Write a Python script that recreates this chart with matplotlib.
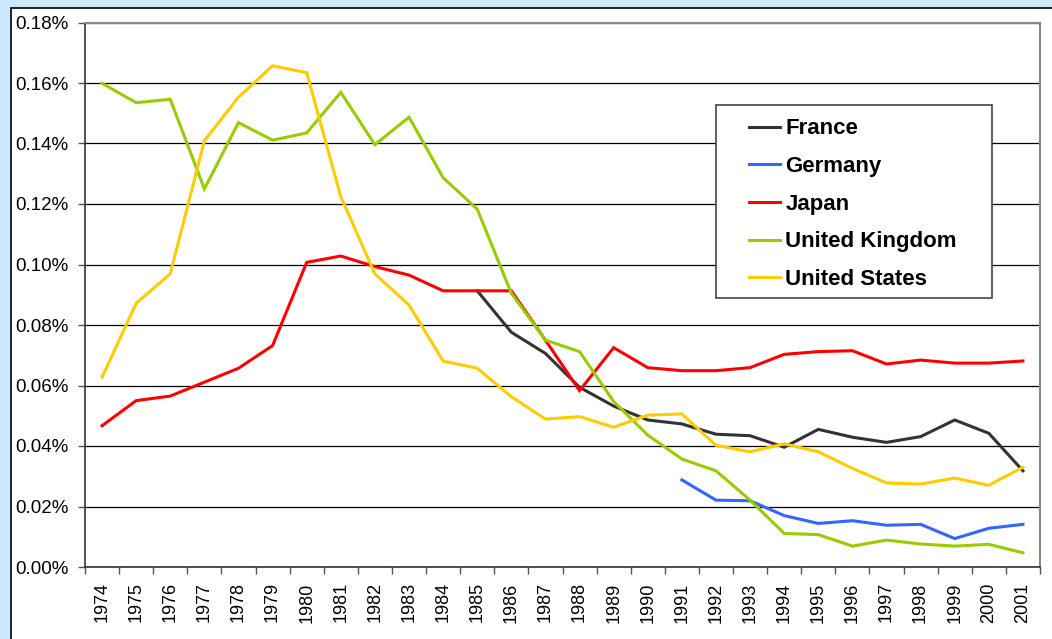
import numpy as np
import matplotlib
matplotlib.use("Agg")
import matplotlib.pyplot as plt
from matplotlib.patches import Rectangle
from matplotlib.ticker import FuncFormatter, FixedLocator

plt.rcParams['font.family'] = ['Liberation Sans', 'DejaVu Sans']

years = [str(y) for y in range(1974, 2002)]
nan = np.nan
france = [nan]*11 + [0.0913, 0.0776, 0.0706, 0.0594, 0.0532, 0.0486, 0.0473, 0.0439, 0.0434,
                     0.0396, 0.0455, 0.0429, 0.0412, 0.0431, 0.0486, 0.0442, 0.0318]
germany = [nan]*17 + [0.0288, 0.0221, 0.0219, 0.0170, 0.0144, 0.0153, 0.0138, 0.0141, 0.0094,
                      0.0128, 0.0141]
japan = [0.0467, 0.0550, 0.0565, 0.0611, 0.0657, 0.0732, 0.1007, 0.1028, 0.0993, 0.0965,
         0.0913, 0.0913, 0.0913, 0.0750, 0.0583, 0.0725, 0.0659, 0.0649, 0.0649, 0.0659,
         0.0703, 0.0712, 0.0715, 0.0671, 0.0684, 0.0674, 0.0674, 0.0681]
uk = [0.1599, 0.1535, 0.1546, 0.1250, 0.1469, 0.1411, 0.1435, 0.1569, 0.1396, 0.1487,
      0.1287, 0.1183, 0.0905, 0.0750, 0.0712, 0.0547, 0.0436, 0.0357, 0.0318, 0.0221,
      0.0111, 0.0107, 0.0069, 0.0089, 0.0076, 0.0069, 0.0075, 0.0047]
us = [0.0627, 0.0872, 0.0969, 0.1409, 0.1553, 0.1657, 0.1634, 0.1224, 0.0969, 0.0866,
      0.0681, 0.0657, 0.0563, 0.0489, 0.0497, 0.0462, 0.0502, 0.0506, 0.0402, 0.0381,
      0.0407, 0.0381, 0.0326, 0.0278, 0.0274, 0.0294, 0.0270, 0.0330]

series = [("France", france, "#333333"),
          ("Germany", germany, "#3366FF"),
          ("Japan", japan, "#FF0000"),
          ("United Kingdom", uk, "#99CC00"),
          ("United States", us, "#FFCC00")]

W, H = 1052, 639
fig = plt.figure(figsize=(W/100, H/100), dpi=100, facecolor="#CCE8FD")

# inner white chart area with black border
bg = Rectangle((11/W, -0.05), 1.2, (H-8)/H + 0.05, transform=fig.transFigure,
               facecolor="white", edgecolor="black", linewidth=1.2, zorder=-10)
fig.patches.append(bg)

ax = fig.add_axes([85/W, (H-567)/H, (1040-85)/W, (567-22.5)/H])
ax.set_facecolor("white")
ax.set_zorder(1)

x = np.arange(len(years))
for name, vals, col in series:
    ax.plot(x, vals, color=col, linewidth=2.2, label=name, solid_joinstyle='miter', zorder=3)

ax.set_xlim(-0.5, len(years) - 0.5)
ax.set_ylim(0, 0.18)
ax.set_yticks(np.arange(0, 0.181, 0.02))
ax.yaxis.set_major_formatter(FuncFormatter(lambda v, p: f"{v:.2f}%"))
ax.grid(axis='y', color='black', linewidth=0.9, zorder=1)

ax.set_xticks(x)
ax.set_xticklabels(years, rotation=90, fontsize=13)
ax.xaxis.set_minor_locator(FixedLocator(np.arange(-0.5, len(years), 1.0)))
ax.tick_params(axis='x', which='major', length=0, pad=11)
ax.tick_params(axis='x', which='minor', length=5, width=1, color='#555555')
ax.tick_params(axis='y', length=5, width=1, pad=7, labelsize=13.5, color='#555555')

for s in ['left', 'bottom']:
    ax.spines[s].set_color('#333333')
    ax.spines[s].set_linewidth(1.2)
for s in ['top', 'right']:
    ax.spines[s].set_color('#888888')
    ax.spines[s].set_linewidth(1.5)

# legend box
box = Rectangle((716/W, (H-298)/H), (992-716)/W, (298-105)/H, transform=fig.transFigure,
                facecolor="white", edgecolor="#444444", linewidth=1.2, zorder=5, clip_on=False)
ax.add_patch(box)
leg = ax.legend(loc='upper left', bbox_to_anchor=(731.5/W, (H-100.5)/H), bbox_transform=fig.transFigure,
                frameon=False, prop={'weight': 'bold', 'size': 16}, handlelength=1.4,
                handletextpad=0.22, labelspacing=0.75, borderpad=0.3)
leg.set_zorder(6)

fig.savefig("out.png", dpi=100, facecolor=fig.get_facecolor())
